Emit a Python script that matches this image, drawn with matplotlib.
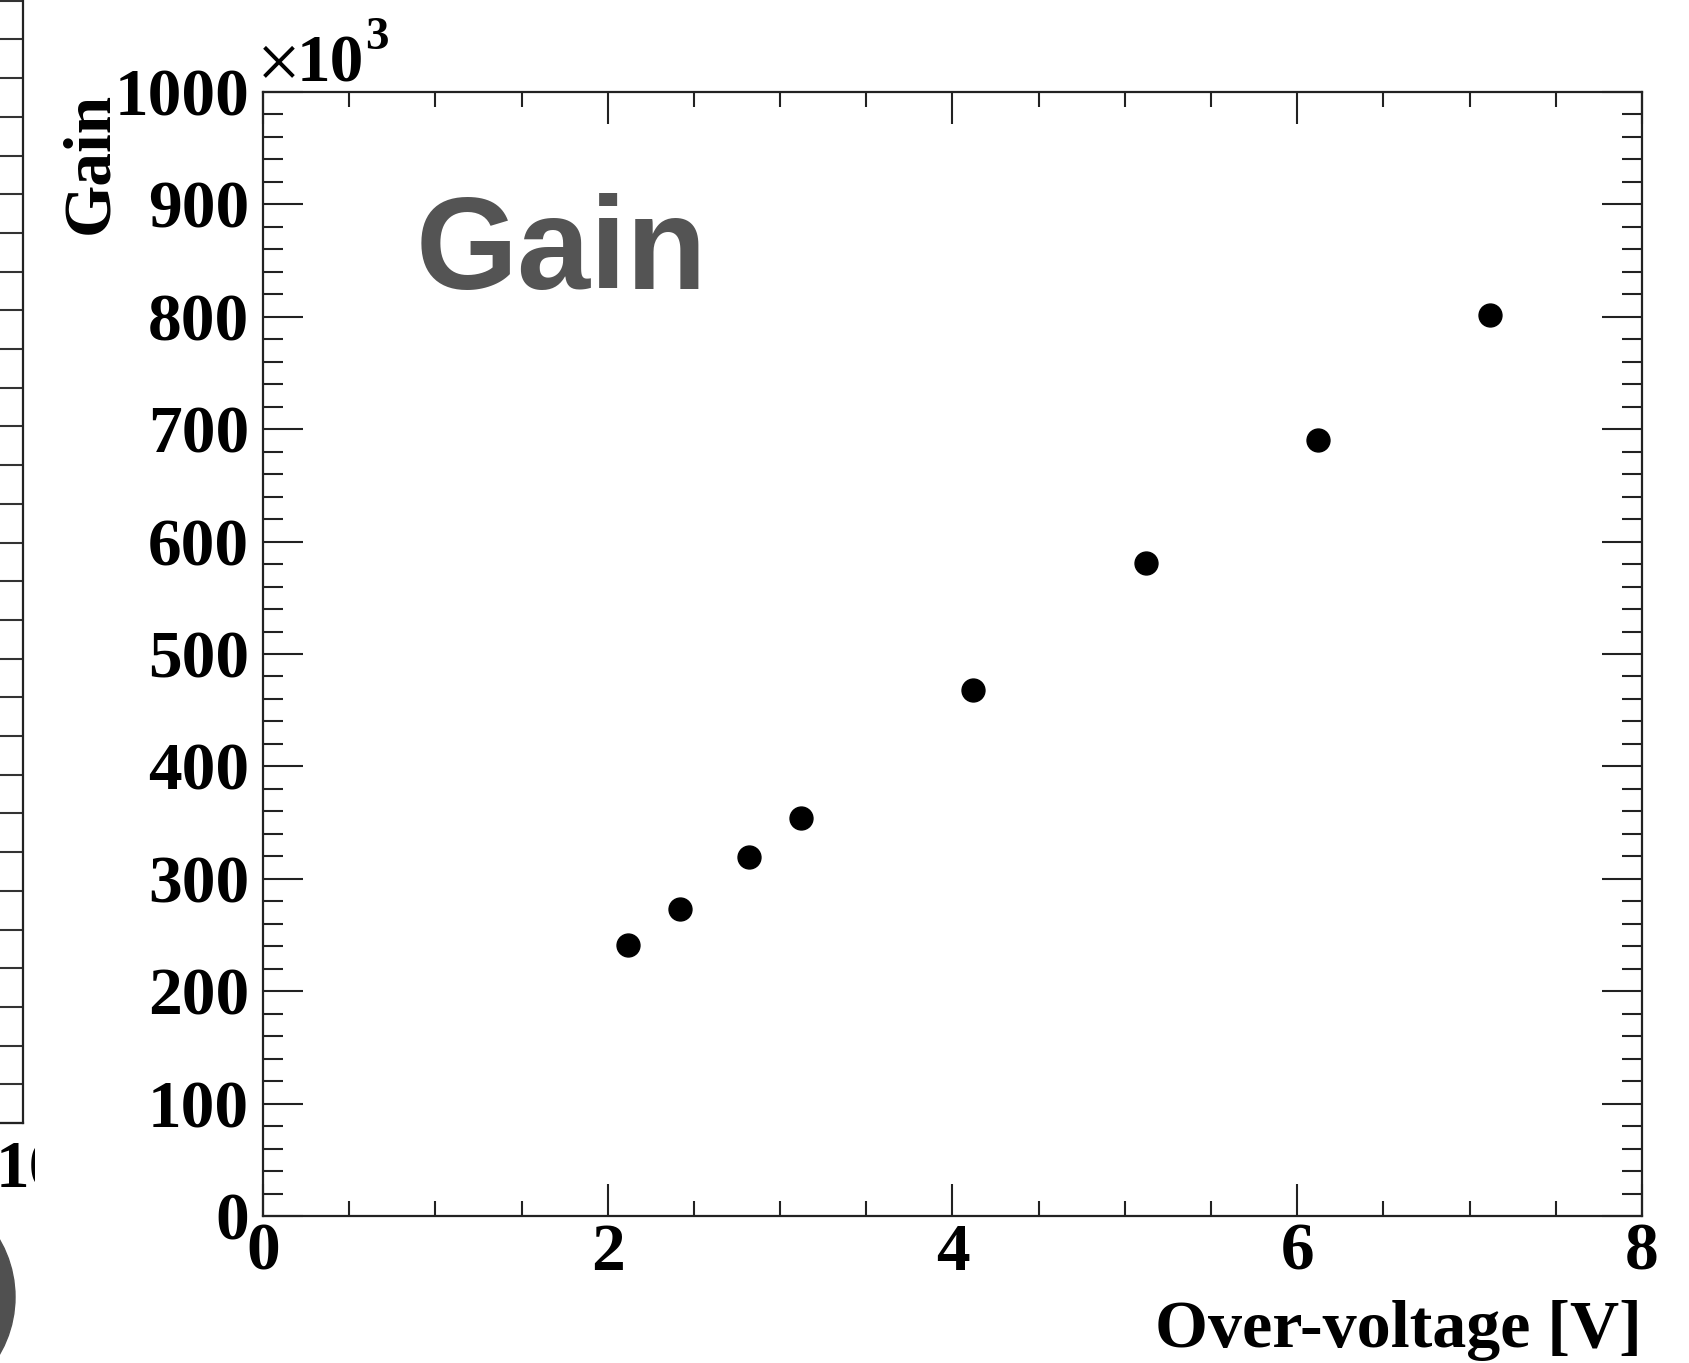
import matplotlib
matplotlib.use("Agg")
import matplotlib.pyplot as plt
from matplotlib.ticker import MultipleLocator
from matplotlib.patches import Circle
from matplotlib.transforms import IdentityTransform, Bbox

# ---- data ----
over_voltage = [2.12, 2.42, 2.82, 3.12, 4.12, 5.12, 6.12, 7.12]   # V
gain_k = [241, 273, 319, 354, 468, 581, 690, 802]                  # x10^3

x_label = "Over-voltage [V]"
y_label = "Gain"
title_text = "Gain"

W, H = 1690, 1363
fig = plt.figure(figsize=(W / 100, H / 100), dpi=100)
SERIF = "Liberation Serif"
FS = 48.5

# main axes
L, R, T, B = 263, 1642, 92, 1216
ax = fig.add_axes([L / W, (H - B) / H, (R - L) / W, (B - T) / H])
ax.plot(over_voltage, gain_k, "o", color="black", ms=16.5, mec="black", clip_on=False)
ax.set_xlim(0, 8)
ax.set_ylim(0, 1000)
ax.xaxis.set_major_locator(MultipleLocator(2))
ax.xaxis.set_minor_locator(MultipleLocator(0.5))
ax.yaxis.set_major_locator(MultipleLocator(100))
ax.yaxis.set_minor_locator(MultipleLocator(20))
ax.tick_params(which="both", direction="in", top=True, right=True, width=1.5,
               colors="#222222", labelcolor="black")
ax.tick_params(axis="x", which="major", length=23, pad=5)
ax.tick_params(axis="x", which="minor", length=11)
ax.tick_params(axis="y", which="major", length=29, pad=10)
ax.tick_params(axis="y", which="minor", length=14.5)
for s in ax.spines.values():
    s.set_linewidth(1.6)
    s.set_color("#222222")
for lab in ax.get_xticklabels() + ax.get_yticklabels():
    lab.set_fontfamily(SERIF)
    lab.set_fontweight("bold")
    lab.set_fontsize(FS)

ax.set_xlabel(x_label, fontfamily=SERIF, fontweight="bold", fontsize=49)
ax.xaxis.set_label_coords(1.0, (B - 1347) / (B - T))
ax.xaxis.label.set_ha("right")
ax.xaxis.label.set_va("baseline")

ax.set_ylabel(y_label, fontfamily=SERIF, fontweight="bold", fontsize=FS)
ax.yaxis.set_label_coords((107 - L) / (R - L), 1.0)
ax.yaxis.label.set_ha("right")
ax.yaxis.label.set_va("baseline")

# x10^3 multiplier
ax.text((257 - L) / (R - L), (B - 87) / (B - T), "\u00d7", transform=ax.transAxes,
        ha="left", va="baseline", fontfamily=SERIF, fontsize=56)
ax.text((297 - L) / (R - L), (B - 82) / (B - T), "10", transform=ax.transAxes, ha="left",
        va="baseline", fontfamily=SERIF, fontweight="bold", fontsize=FS)
ax.text((365 - L) / (R - L), (B - 49) / (B - T), "3", transform=ax.transAxes, ha="left",
        va="baseline", fontfamily=SERIF, fontweight="bold", fontsize=34)

# big grey in-plot label
ax.text((416 - L) / (R - L), (B - 289) / (B - T), title_text, transform=ax.transAxes,
        ha="left", va="baseline", fontfamily="Liberation Sans", fontweight="bold",
        fontsize=94.5, color="#545454")

# ---- fragment of the neighbouring panel at the left edge ----
ax2 = fig.add_axes([(23 - 300) / W, (H - 1123) / H, 300 / W, 1200 / H])
ax2.set_xlim(0, 1)
ax2.set_ylim(0, 1200)
ax2.yaxis.set_major_locator(MultipleLocator(38.7))
ax2.set_xticks([])
ax2.tick_params(axis="y", which="both", direction="in", left=False, right=True,
                labelleft=False, length=26, width=1.5, colors="#333333")
for s in ax2.spines.values():
    s.set_linewidth(1.6)
    s.set_color("#222222")
t10 = fig.text(-4 / W, (H - 1188) / H, "10", ha="left", va="baseline",
               fontfamily=SERIF, fontweight="bold", fontsize=FS)
t10.set_clip_box(Bbox([[0, 0], [35, H]]))
t10.set_clip_on(True)
fig.patches.append(Circle((-99, H - 1297), 114, transform=IdentityTransform(),
                          color="#505050", figure=fig))

fig.savefig("out.png", dpi=100, facecolor="white")
